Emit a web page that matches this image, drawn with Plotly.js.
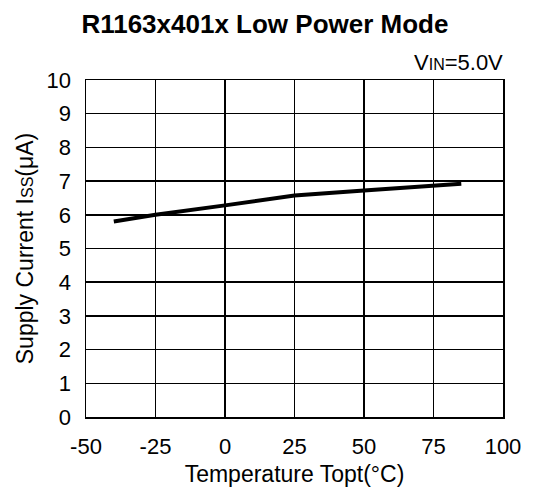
<!DOCTYPE html>
<html>
<head>
<meta charset="utf-8">
<script src="https://cdn.plot.ly/plotly-3.0.1.min.js"></script>
<style>html,body{margin:0;padding:0;background:#fff;}#chart{width:533px;height:491px;}</style>
</head>
<body>
<div id="chart"></div>
<script>
const temperature = [-40, -25, 0, 25, 50, 75, 85];
const supplyCurrent = [5.8, 6.0, 6.28, 6.57, 6.72, 6.85, 6.92];
const xTicks = [-50, -25, 0, 25, 50, 75, 100];
const yTicks = [0, 1, 2, 3, 4, 5, 6, 7, 8, 9, 10];

const FONT = "Liberation Sans, Arial, sans-serif";

const trace = {
  x: temperature,
  y: supplyCurrent,
  type: 'scatter',
  mode: 'lines',
  line: {color: '#000', width: 4},
  hoverinfo: 'skip'
};

const layout = {
  width: 533,
  height: 491,
  margin: {l: 86, r: 30, t: 80, b: 74},
  paper_bgcolor: '#fff',
  plot_bgcolor: '#fff',
  showlegend: false,
  font: {family: FONT, color: '#000', size: 22},
  title: {
    text: '<b>R1163x401x Low Power Mode</b>',
    font: {family: FONT, size: 26, color: '#000'},
    xref: 'container', x: 0.497, xanchor: 'center',
    yref: 'container', y: 1 - 24/491, yanchor: 'middle'
  },
  xaxis: {
    range: [-50, 100],
    tickvals: xTicks,
    ticktext: xTicks.map(String),
    showgrid: true, gridcolor: '#000', gridwidth: 1.5,
    zeroline: false,
    showline: true, mirror: true, linecolor: '#000', linewidth: 1.5,
    ticks: '',
    ticklabelstandoff: 9,
    tickfont: {family: FONT, size: 22, color: '#000'},
    title: {text: 'Temperature Topt(°C)', font: {family: FONT, size: 23, color: '#000'}, standoff: 8}
  },
  yaxis: {
    range: [0, 10],
    tickvals: yTicks,
    ticktext: yTicks.map(String),
    showgrid: true, gridcolor: '#000', gridwidth: 1.5,
    zeroline: false,
    showline: true, mirror: true, linecolor: '#000', linewidth: 1.5,
    ticks: '',
    ticklabelstandoff: 9,
    tickfont: {family: FONT, size: 22, color: '#000'},
    title: {text: 'Supply Current I<span style="font-size:16px">SS</span>(μA)', font: {family: FONT, size: 23, color: '#000'}, standoff: 6}
  },
  annotations: [{
    text: 'V<span style="font-size:16px">IN</span>=5.0V',
    xref: 'paper', yref: 'paper',
    x: 1, y: 1, xanchor: 'right', yanchor: 'bottom', yshift: 3, xshift: 2,
    showarrow: false,
    font: {family: FONT, size: 22, color: '#000'}
  }]
};

Plotly.newPlot('chart', [trace], layout, {displayModeBar: false, staticPlot: true});
</script>
</body>
</html>
